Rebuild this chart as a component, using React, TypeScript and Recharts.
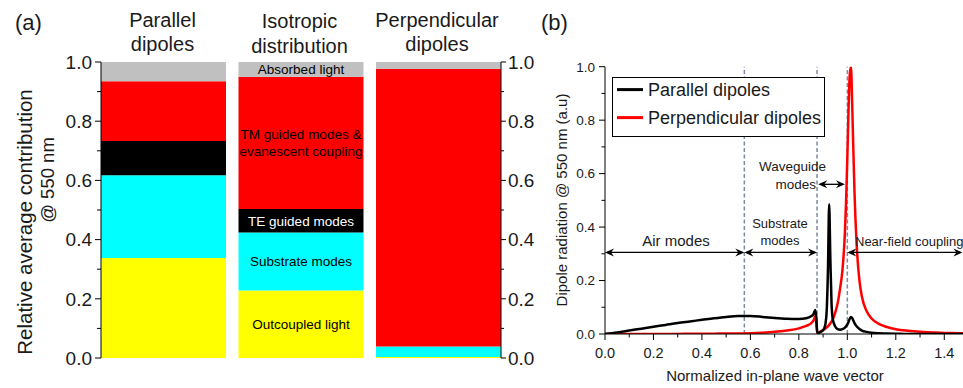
import React from 'react';
import { BarChart, Bar, XAxis, YAxis, LineChart, Line, ReferenceLine, LabelList, Legend } from 'recharts';

const FONT = '"Liberation Sans", Arial, Helvetica, sans-serif';
const TEXT = '#1a1a1a';

// ---------- Panel (a) data ----------
const categories = ['Parallel dipoles', 'Isotropic distribution', 'Perpendicular dipoles'];
const outcoupled = [0.338, 0.228, 0.003];
const substrate = [0.279, 0.196, 0.036];
const teGuided = [0.116, 0.079, 0];
const tmGuided = [0.202, 0.447, 0.938];
const absorbed = [0.065, 0.05, 0.023];
const segmentKeys = ['outcoupled', 'substrate', 'te', 'tm', 'absorbed'];
const segmentColors = ['#ffff00', '#00ffff', '#000000', '#ff0000', '#c0c0c0'];
const segmentLabelColors = ['#000000', '#000000', '#ffffff', '#000000', '#000000'];
const segmentLabels = ['Outcoupled light', 'Substrate modes', 'TE guided modes', 'TM guided modes &\nevanescent coupling', 'Absorbed light'];
const labelledCategory = 'Isotropic distribution';
const contributionTicks = [0, 0.1, 0.2, 0.3, 0.4, 0.5, 0.6, 0.7, 0.8, 0.9, 1.0];

const segmentSeries = [outcoupled, substrate, teGuided, tmGuided, absorbed];
const contributionRows = categories.map((c, i) => {
  const row: any = { category: c };
  segmentKeys.forEach((k, s) => {
    row[k] = segmentSeries[s][i];
    row['lbl_' + k] = c === labelledCategory ? segmentLabels[s] : '';
  });
  return row;
});

// ---------- Panel (b) data ----------
const waveVector = [
  0, 0.05, 0.1, 0.15, 0.2, 0.25, 0.3, 0.35, 0.4, 0.45,
  0.5, 0.55, 0.6, 0.65, 0.7, 0.75, 0.8, 0.83, 0.85, 0.86,
  0.868, 0.872, 0.876, 0.88, 0.89, 0.9, 0.905, 0.91, 0.915, 0.92,
  0.925, 0.93, 0.935, 0.94, 0.95, 0.96, 0.97, 0.98, 0.99, 0.995,
  1.0, 1.005, 1.01, 1.015, 1.02, 1.025, 1.03, 1.04, 1.05, 1.06,
  1.08, 1.1, 1.13, 1.16, 1.2, 1.25, 1.3, 1.35, 1.4, 1.45,
  1.5,
];
const parallelDipoles = [
  0, 0.006, 0.013, 0.02, 0.027, 0.034, 0.041, 0.047, 0.053, 0.059,
  0.064, 0.067, 0.067, 0.064, 0.06, 0.057, 0.056, 0.059, 0.066, 0.074,
  0.09, 0.06, 0.008, 0.005, 0.008, 0.014, 0.022, 0.04, 0.09, 0.24,
  0.485, 0.28, 0.11, 0.055, 0.028, 0.018, 0.016, 0.018, 0.024, 0.029,
  0.036, 0.046, 0.057, 0.064, 0.06, 0.05, 0.04, 0.027, 0.019, 0.013,
  0.008, 0.005, 0.003, 0.002, 0.001, 0, 0, 0, 0, 0,
  0,
];
const perpendicularDipoles = [
  0, 0, 0, 0, 0, 0, 0, 0.001, 0.001, 0.001,
  0.002, 0.002, 0.003, 0.005, 0.008, 0.013, 0.021, 0.03, 0.04, 0.05,
  0.066, 0.04, 0.004, 0.004, 0.01, 0.015, 0.018, 0.021, 0.025, 0.029,
  0.034, 0.04, 0.047, 0.055, 0.08, 0.115, 0.17, 0.24, 0.38, 0.5,
  0.66, 0.84, 0.97, 1.0, 0.86, 0.68, 0.52, 0.31, 0.2, 0.14,
  0.085, 0.058, 0.038, 0.027, 0.018, 0.012, 0.008, 0.006, 0.004, 0.003,
  0.002,
];
const seriesNames = ['Parallel dipoles', 'Perpendicular dipoles'];
const seriesColors = ['#000000', '#ff0000'];
const waveTicks = [0, 0.1, 0.2, 0.3, 0.4, 0.5, 0.6, 0.7, 0.8, 0.9, 1.0, 1.1, 1.2, 1.3, 1.4, 1.5];
const radiationTicks = [0, 0.1, 0.2, 0.3, 0.4, 0.5, 0.6, 0.7, 0.8, 0.9, 1.0];
const regionBoundaries = [0.575, 0.875, 1.0];
const airModesSpan = [0, 0.575, 0.305];
const substrateModesSpan = [0.575, 0.875, 0.305];
const nearFieldSpan = [1.0, 1.475, 0.305];
const waveguideSpan = [0.88, 0.99, 0.56];

const radiationRows = waveVector.map((k, i) => ({ k, par: parallelDipoles[i], perp: perpendicularDipoles[i] }));

// ---------- helpers ----------
const isMajor = (v: number) => Math.abs(v * 5 - Math.round(v * 5)) < 1e-6;

const makeTick = (o: {
  side: 'left' | 'right' | 'bottom' | 'top';
  size: number;
  margin: number;
  majorLen: number;
  minorLen: number;
  labelGap?: number;
  fontSize?: number;
  inward?: boolean;
}) => (p: any) => {
  const v = p.payload.value as number;
  const major = isMajor(v);
  const len = major ? o.majorLen : o.minorLen;
  const label = major && o.fontSize ? v.toFixed(1) : null;
  if (o.side === 'left') {
    const ax = p.x + o.margin + o.size;
    return (
      <g>
        <line x1={ax} x2={ax - len} y1={p.y} y2={p.y} stroke="#000" strokeWidth={1} />
        {label && (
          <text x={ax - (o.labelGap || 0)} y={p.y} dy="0.36em" textAnchor="end" fontSize={o.fontSize} fontFamily={FONT} fill={TEXT}>{label}</text>
        )}
      </g>
    );
  }
  if (o.side === 'right') {
    const ax = p.x - o.margin - o.size;
    return (
      <g>
        <line x1={ax} x2={ax + len} y1={p.y} y2={p.y} stroke="#000" strokeWidth={1} />
        {label && (
          <text x={ax + (o.labelGap || 0)} y={p.y} dy="0.36em" textAnchor="start" fontSize={o.fontSize} fontFamily={FONT} fill={TEXT}>{label}</text>
        )}
      </g>
    );
  }
  if (o.side === 'bottom') {
    const ay = p.y - o.margin - o.size;
    return (
      <g>
        <line x1={p.x} x2={p.x} y1={ay} y2={ay + len} stroke="#000" strokeWidth={1} />
        {label && (
          <text x={p.x} y={ay + (o.labelGap || 0)} dy="0.36em" textAnchor="middle" fontSize={o.fontSize} fontFamily={FONT} fill={TEXT}>{label}</text>
        )}
      </g>
    );
  }
  const ay = p.y + o.margin + o.size;
  return (
    <g>
      <line x1={p.x} x2={p.x} y1={ay} y2={o.inward ? ay + len : ay - len} stroke="#000" strokeWidth={1} />
    </g>
  );
};

const segmentLabel = (color: string) => (p: any) => {
  if (!p.value) return null;
  const vb = p.viewBox || p;
  const cx = vb.x + vb.width / 2;
  const cy = vb.y + vb.height / 2;
  const lines = String(p.value).split('\n');
  const lh = 17;
  return (
    <text x={cx} y={cy - ((lines.length - 1) * lh) / 2} dy="0.36em" textAnchor="middle" fill={color} fontSize={13.5} fontFamily={FONT}>
      {lines.map((l, k) => (
        <tspan key={k} x={cx} dy={k === 0 ? '0.36em' : lh}>{l}</tspan>
      ))}
    </text>
  );
};

const arrowShape = (p: any) => {
  const x1 = Math.min(p.x1, p.x2);
  const x2 = Math.max(p.x1, p.x2);
  const y = p.y1;
  const head = (x: number, dir: number) => `${x},${y} ${x + dir * 9},${y - 4} ${x + dir * 6},${y} ${x + dir * 9},${y + 4}`;
  return (
    <g>
      <line x1={x1 + 2} y1={y} x2={x2 - 2} y2={y} stroke="#000" strokeWidth={1.3} />
      <polygon points={head(x1, 1)} fill="#000" />
      <polygon points={head(x2, -1)} fill="#000" />
    </g>
  );
};

const LegendBox = () => (
  <svg width={213} height={60} style={{ display: 'block' }}>
    <rect x={0.5} y={0.5} width={212} height={59} fill="#fff" stroke="#000" strokeWidth={1} />
    {seriesNames.map((n, i) => (
      <g key={n}>
        <line x1={5} x2={31} y1={12.6 + i * 28} y2={12.6 + i * 28} stroke={seriesColors[i]} strokeWidth={3} />
        <text x={36} y={12.6 + i * 28} dy="0.36em" fontSize={18} fontFamily={FONT} fill={TEXT}>{n}</text>
      </g>
    ))}
  </svg>
);

export default function App() {
  return (
    <div style={{ position: 'absolute', left: 0, top: 0, width: 963, height: 388, overflow: 'hidden', background: '#fff', fontFamily: FONT }}>
      {/* Panel (a) */}
      <div style={{ position: 'absolute', left: 0, top: 0 }}>
        <BarChart width={555} height={388} data={contributionRows} margin={{ top: 62, right: 4, bottom: 30, left: 41 }} barCategoryGap={6.25}>
          <XAxis dataKey="category" hide padding={{ left: -6.25, right: -6.25 }} />
          <YAxis
            yAxisId="left"
            type="number"
            domain={[0, 1]}
            allowDataOverflow
            ticks={contributionTicks}
            interval={0}
            width={60}
            tickSize={6}
            tickMargin={3}
            tickLine={false}
            axisLine={{ stroke: '#000', strokeWidth: 1 }}
            tick={makeTick({ side: 'left', size: 6, margin: 3, majorLen: 6, minorLen: 4, labelGap: 9, fontSize: 19 })}
          />
          <YAxis
            yAxisId="right"
            orientation="right"
            type="number"
            domain={[0, 1]}
            allowDataOverflow
            ticks={contributionTicks}
            interval={0}
            width={50}
            tickSize={5}
            tickMargin={2}
            tickLine={false}
            axisLine={{ stroke: '#000', strokeWidth: 1 }}
            tick={makeTick({ side: 'right', size: 5, margin: 2, majorLen: 5, minorLen: 3, labelGap: 7, fontSize: 19 })}
          />
          {segmentKeys.map((k, s) => (
            <Bar key={k} yAxisId="left" dataKey={k} stackId="a" fill={segmentColors[s]} isAnimationActive={false}>
              <LabelList dataKey={'lbl_' + k} content={segmentLabel(segmentLabelColors[s])} />
            </Bar>
          ))}
        </BarChart>
      </div>

      {/* Panel (b) */}
      <div style={{ position: 'absolute', left: 530, top: 0 }}>
        <LineChart width={440} height={388} data={radiationRows} margin={{ top: 66.7, right: 1.5, bottom: 0, left: 25 }}>
          <XAxis
            xAxisId="bottom"
            dataKey="k"
            type="number"
            domain={[0, 1.5]}
            allowDataOverflow
            ticks={waveTicks}
            interval={0}
            height={54}
            tickSize={6}
            tickMargin={4}
            tickLine={false}
            axisLine={{ stroke: '#000', strokeWidth: 1 }}
            tick={makeTick({ side: 'bottom', size: 6, margin: 4, majorLen: 6, minorLen: 3.5, labelGap: 19, fontSize: 14.5 })}
          />
          <XAxis
            xAxisId="top"
            orientation="top"
            type="number"
            domain={[0, 1.5]}
            allowDataOverflow
            ticks={waveTicks}
            interval={0}
            height={0}
            tickSize={5}
            tickMargin={2}
            tickLine={false}
            axisLine={{ stroke: '#000', strokeWidth: 1 }}
            tick={makeTick({ side: 'top', size: 5, margin: 2, majorLen: 5, minorLen: 3, inward: true })}
          />
          <YAxis
            yAxisId="left"
            type="number"
            domain={[0, 1]}
            allowDataOverflow
            ticks={radiationTicks}
            interval={0}
            width={50}
            tickSize={6}
            tickMargin={3}
            tickLine={false}
            axisLine={{ stroke: '#000', strokeWidth: 1 }}
            tick={makeTick({ side: 'left', size: 6, margin: 3, majorLen: 6, minorLen: 3.5, labelGap: 10, fontSize: 13.5 })}
          />
          {regionBoundaries.map((b) => (
            <ReferenceLine key={b} xAxisId="bottom" yAxisId="left" x={b} stroke="#7c8aa3" strokeWidth={1.5} strokeDasharray="4 2.5" />
          ))}
          <Line xAxisId="bottom" yAxisId="left" type="monotone" dataKey="perp" stroke={seriesColors[1]} strokeWidth={2.5} dot={false} isAnimationActive={false} />
          <Line xAxisId="bottom" yAxisId="left" type="monotone" dataKey="par" stroke={seriesColors[0]} strokeWidth={2.5} dot={false} isAnimationActive={false} />
          {[airModesSpan, substrateModesSpan, nearFieldSpan, waveguideSpan].map((s, i) => (
            <ReferenceLine
              key={i}
              xAxisId="bottom"
              yAxisId="left"
              segment={[{ x: s[0], y: s[2] }, { x: s[1], y: s[2] }]}
              shape={arrowShape}
            />
          ))}
          <Legend
            layout="horizontal"
            verticalAlign="middle"
            align="center"
            wrapperStyle={{ position: 'absolute', left: 82, top: 76.7, width: 213, height: 60 }}
            content={() => <LegendBox />}
          />
        </LineChart>
      </div>

      {/* Text overlay */}
      <svg width={1000} height={388} style={{ position: 'absolute', left: 0, top: 0, pointerEvents: 'none' }} fontFamily={FONT} fill={TEXT}>
        <text x={15} y={30} fontSize={22}>(a)</text>
        <text x={541} y={30} fontSize={22}>(b)</text>

        <text x={162.5} y={27.3} fontSize={20} textAnchor="middle">Parallel</text>
        <text x={162.5} y={50.7} fontSize={20} textAnchor="middle">dipoles</text>
        <text x={299.5} y={28.3} fontSize={20} textAnchor="middle">Isotropic</text>
        <text x={299.5} y={53} fontSize={20} textAnchor="middle">distribution</text>
        <text x={437} y={26.7} fontSize={20} textAnchor="middle">Perpendicular</text>
        <text x={437} y={50.7} fontSize={20} textAnchor="middle">dipoles</text>

        <text transform="translate(25,222) rotate(-90)" fontSize={20.5} textAnchor="middle" dy="0.36em">Relative average contribution</text>
        <text transform="translate(47,180) rotate(-90)" fontSize={18.5} textAnchor="middle" dy="0.36em">@ 550 nm</text>

        <text transform="translate(562,200) rotate(-90)" fontSize={15} textAnchor="middle" dy="0.36em">Dipole radiation @ 550 nm (a.u)</text>
        <text x={775} y={376} fontSize={15} textAnchor="middle" dy="0.36em">Normalized in-plane wave vector</text>

        <text x={676} y={241} fontSize={15} textAnchor="middle" dy="0.36em">Air modes</text>
        <text x={780} y={223.5} fontSize={13} textAnchor="middle" dy="0.36em">Substrate</text>
        <text x={780} y={240.5} fontSize={13} textAnchor="middle" dy="0.36em">modes</text>
        <text x={792.5} y={166.5} fontSize={13.5} textAnchor="middle" dy="0.36em">Waveguide</text>
        <text x={816} y={184.3} fontSize={13.5} textAnchor="end" dy="0.36em">modes</text>
        <text x={855} y={241.7} fontSize={13} textAnchor="start" dy="0.36em">Near-field coupling</text>
      </svg>
    </div>
  );
}
